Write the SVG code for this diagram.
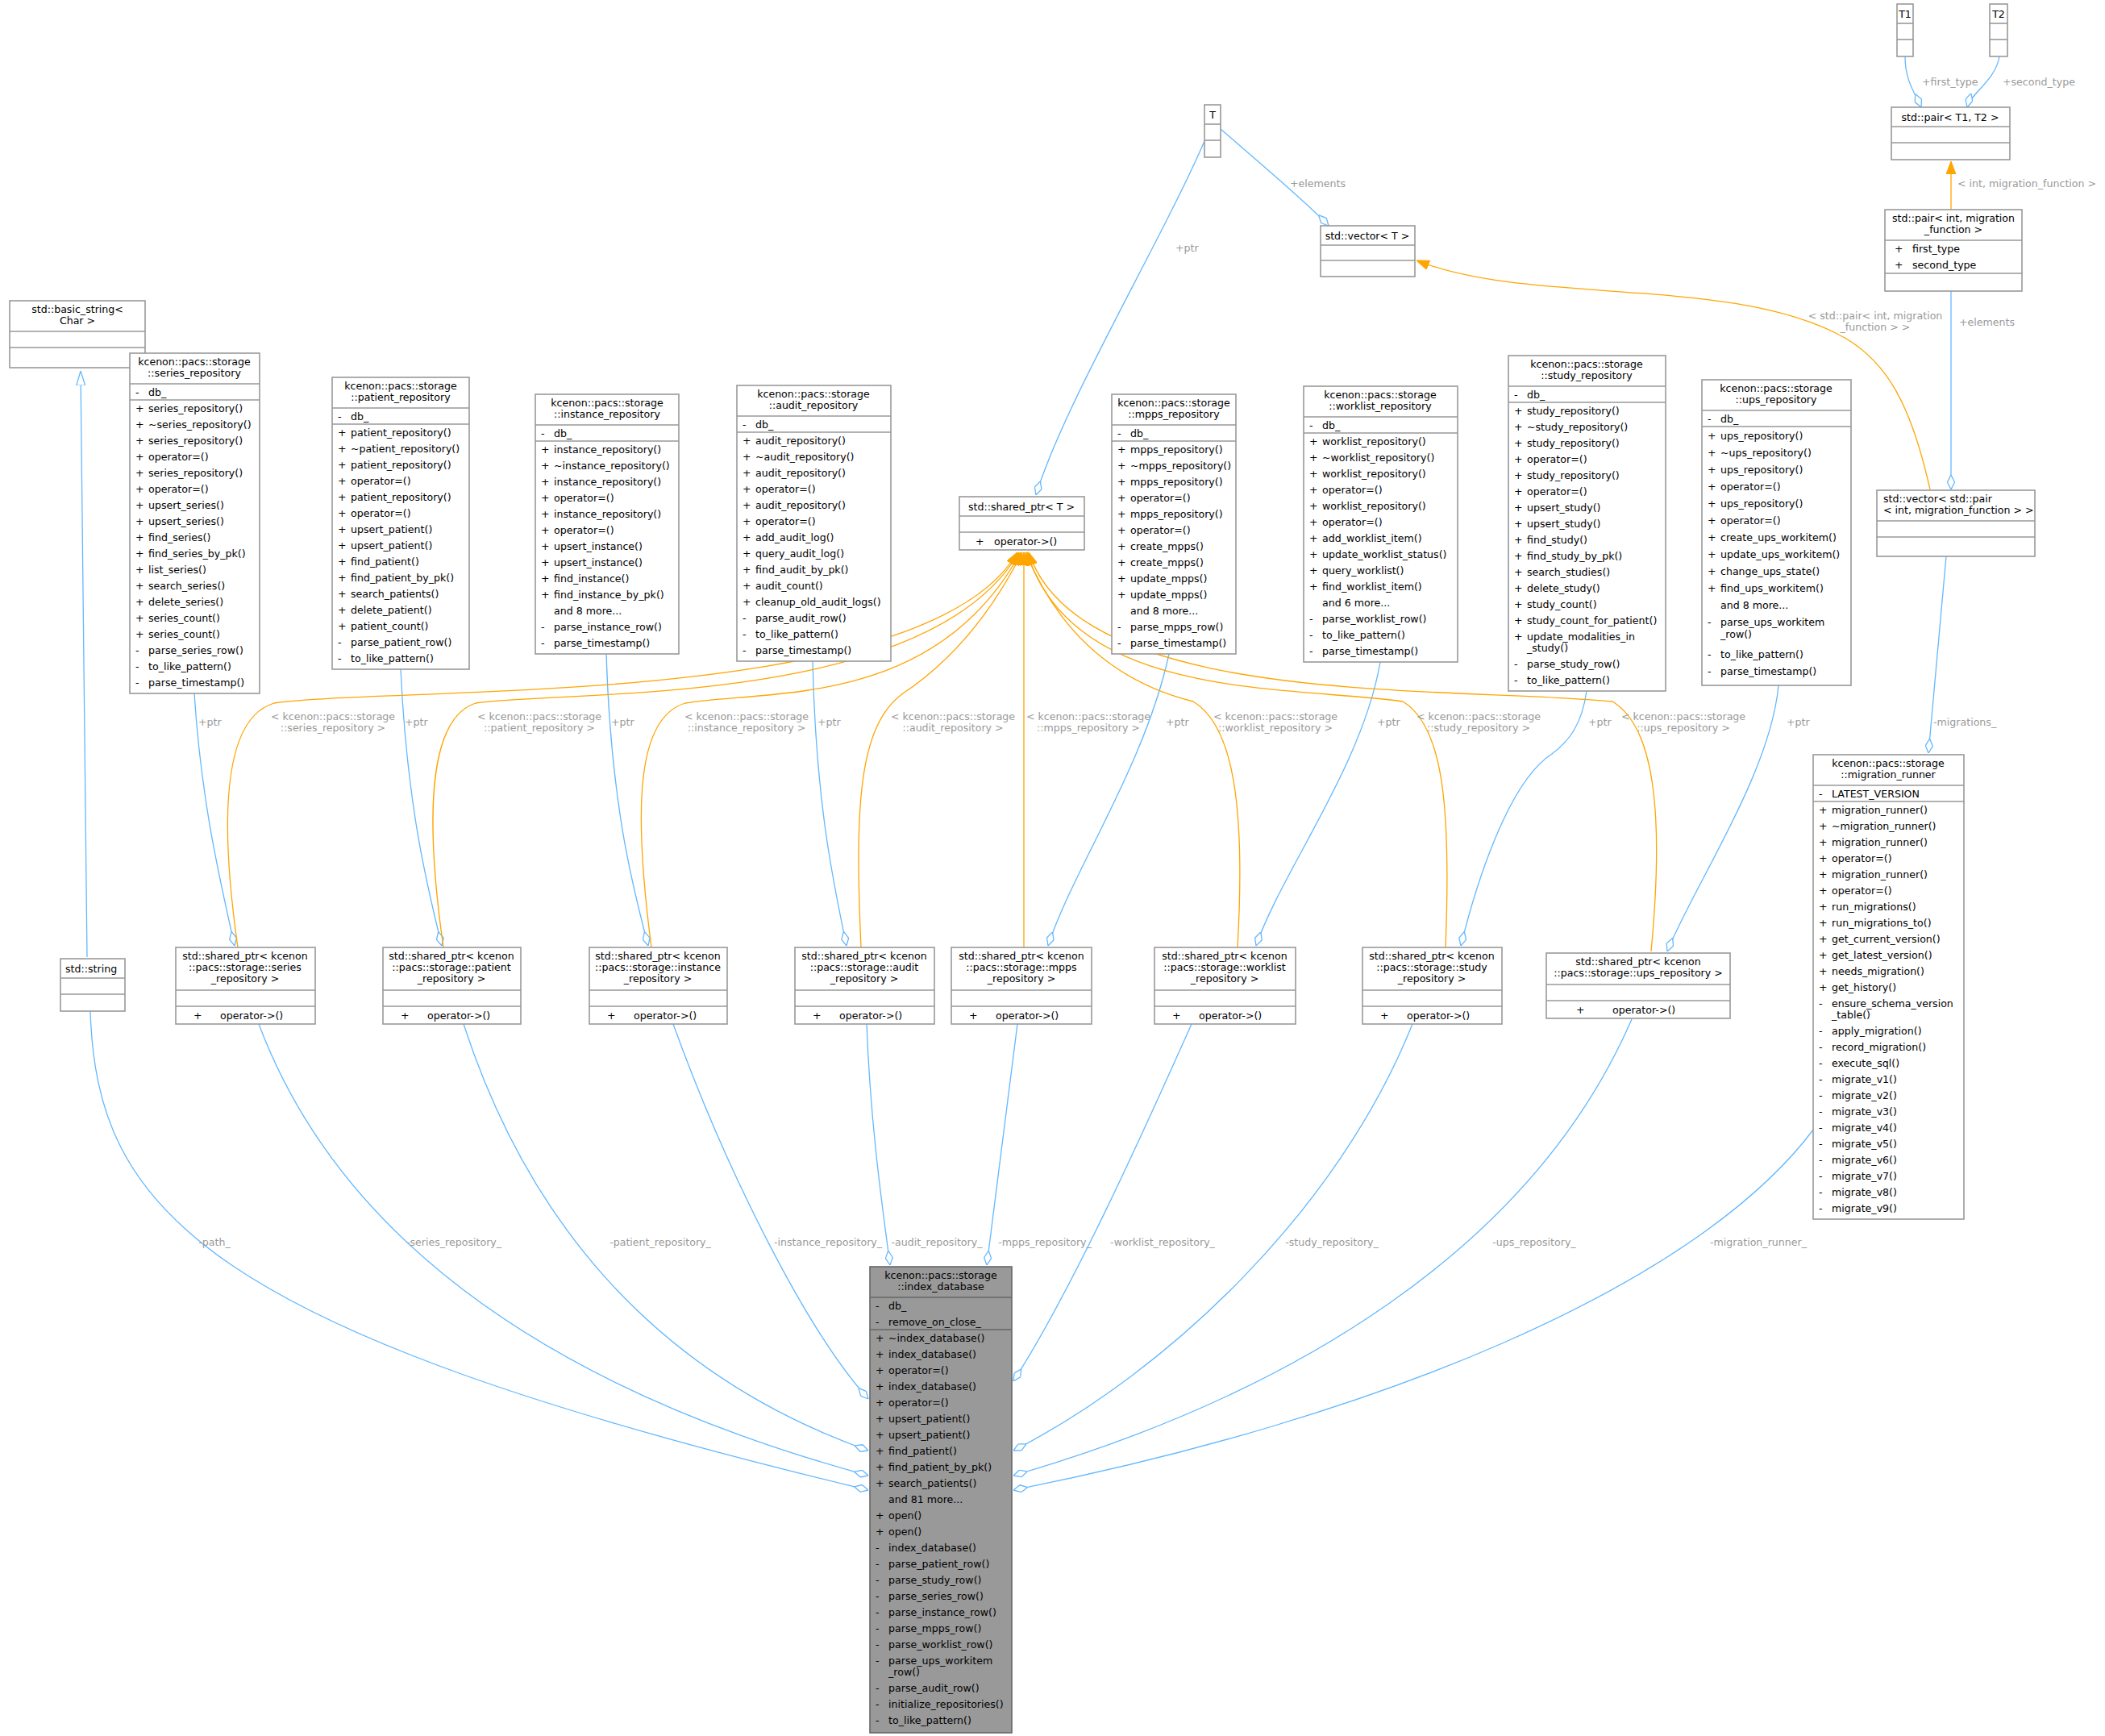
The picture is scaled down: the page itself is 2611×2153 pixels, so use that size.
<svg xmlns="http://www.w3.org/2000/svg" width="2611" height="2153" viewBox="0 0 2611 2153">
<style>
.b{fill:#fff;stroke:#999;stroke-width:1.6}
.m{fill:#999;stroke:#666;stroke-width:1.6}
.s{stroke:#999;stroke-width:1.6}
.sm{stroke:#666;stroke-width:1.6}
text{font-family:"DejaVu Sans","Liberation Sans",sans-serif;font-size:12.6px;fill:#000}
.c{text-anchor:middle}
.l{fill:#9a9a9a}
.e{fill:none;stroke:#63b8ff;stroke-width:1.3}
.o{fill:none;stroke:#ffa500;stroke-width:1.3}
</style>
<defs>
<marker id="dia" viewBox="0 0 18 10" refX="18" refY="5" markerWidth="18" markerHeight="10" markerUnits="userSpaceOnUse" orient="auto"><path d="M0,5 L9,0.5 L18,5 L9,9.5 Z" fill="#fff" stroke="#63b8ff" stroke-width="1.3"/></marker>
<marker id="arr" viewBox="0 0 16 12" refX="16" refY="6" markerWidth="16" markerHeight="12" markerUnits="userSpaceOnUse" orient="auto"><path d="M0,0 L16,6 L0,12 Z" fill="#ffa500" stroke="#ffa500"/></marker>
<marker id="tri" viewBox="0 0 18 12" refX="18" refY="6" markerWidth="18" markerHeight="12" markerUnits="userSpaceOnUse" orient="auto"><path d="M0,0.5 L18,6 L0,11.5 Z" fill="#fff" stroke="#63b8ff" stroke-width="1.3"/></marker>
</defs>

<g id="connectors">
<path class="e" d="M1494,175 C1440,300 1320,500 1285,614" marker-end="url(#dia)"/>
<text class="l" x="1458" y="312">+ptr</text>
<path class="e" d="M1514,160 C1560,200 1620,250 1648,280" marker-end="url(#dia)"/>
<text class="l" x="1600" y="232">+elements</text>
<path class="e" d="M2363,70 C2363,100 2375,115 2383,133" marker-end="url(#dia)"/>
<text class="l" x="2384" y="106">+first_type</text>
<path class="e" d="M2480,70 C2475,100 2445,115 2440,133" marker-end="url(#dia)"/>
<text class="l" x="2484" y="106">+second_type</text>
<path class="o" d="M2420,260 L2420,200" marker-end="url(#arr)"/>
<text class="l" x="2428" y="232">&lt; int, migration_function &gt;</text>
<path class="e" d="M2420,361 L2420,607" marker-end="url(#dia)"/>
<text class="l" x="2430" y="404">+elements</text>
<path class="o" d="M2394,607 C2370,500 2340,450 2290,420 C2150,340 1900,380 1757,323" marker-end="url(#arr)"/>
<text class="l c" x="2326" y="396">&lt; std::pair&lt; int, migration</text>
<text class="l c" x="2326" y="410">_function &gt; &gt;</text>
<path class="e" d="M2414,690 L2392,934" marker-end="url(#dia)"/>
<text class="l" x="2398" y="900">-migrations_</text>
<path class="e" d="M108,1187 L100,460" marker-end="url(#tri)"/>

<path class="e" d="M241,860 C250,1000 275,1100 291,1173" marker-end="url(#dia)"/>
<text class="l" x="246" y="900">+ptr</text>
<path class="e" d="M497,830 C505,1000 530,1100 548,1173" marker-end="url(#dia)"/>
<text class="l" x="502" y="900">+ptr</text>
<path class="e" d="M752,811 C758,1000 785,1100 804,1173" marker-end="url(#dia)"/>
<text class="l" x="758" y="900">+ptr</text>
<path class="e" d="M1008,820 C1012,1000 1035,1100 1050,1173" marker-end="url(#dia)"/>
<text class="l" x="1014" y="900">+ptr</text>
<path class="e" d="M1450,811 C1420,950 1330,1080 1300,1173" marker-end="url(#dia)"/>
<text class="l" x="1446" y="900">+ptr</text>
<path class="e" d="M1712,821 C1690,950 1590,1080 1558,1173" marker-end="url(#dia)"/>
<text class="l" x="1708" y="900">+ptr</text>
<path class="e" d="M1968,857 C1962,900 1945,920 1925,935 C1870,970 1830,1100 1812,1173" marker-end="url(#dia)"/>
<text class="l" x="1970" y="900">+ptr</text>
<path class="e" d="M2206,850 C2196,960 2100,1100 2068,1180" marker-end="url(#dia)"/>
<text class="l" x="2216" y="900">+ptr</text>

<path class="o" d="M295,1175 C270,1000 280,890 340,872 C500,850 1150,880 1262,685" marker-end="url(#arr)"/>
<path class="o" d="M550,1175 C525,1000 535,890 590,872 C700,855 1150,880 1264,685" marker-end="url(#arr)"/>
<path class="o" d="M808,1175 C785,1000 790,890 850,872 C950,855 1160,880 1266,685" marker-end="url(#arr)"/>
<path class="o" d="M1068,1175 C1060,1000 1065,900 1120,860 C1180,820 1230,760 1268,685" marker-end="url(#arr)"/>
<path class="o" d="M1270,1175 L1270,685" marker-end="url(#arr)"/>
<path class="o" d="M1535,1175 C1545,1000 1530,900 1480,870 C1400,850 1320,800 1272,685" marker-end="url(#arr)"/>
<path class="o" d="M1793,1175 C1800,1000 1790,900 1740,870 C1600,850 1330,870 1274,685" marker-end="url(#arr)"/>
<path class="o" d="M2048,1180 C2065,1000 2050,900 2000,870 C1800,850 1340,880 1276,685" marker-end="url(#arr)"/>
<text class="l c" x="413" y="893">&lt; kcenon::pacs::storage</text><text class="l c" x="413" y="907">::series_repository &gt;</text>
<text class="l c" x="669" y="893">&lt; kcenon::pacs::storage</text><text class="l c" x="669" y="907">::patient_repository &gt;</text>
<text class="l c" x="926" y="893">&lt; kcenon::pacs::storage</text><text class="l c" x="926" y="907">::instance_repository &gt;</text>
<text class="l c" x="1182" y="893">&lt; kcenon::pacs::storage</text><text class="l c" x="1182" y="907">::audit_repository &gt;</text>
<text class="l c" x="1350" y="893">&lt; kcenon::pacs::storage</text><text class="l c" x="1350" y="907">::mpps_repository &gt;</text>
<text class="l c" x="1582" y="893">&lt; kcenon::pacs::storage</text><text class="l c" x="1582" y="907">::worklist_repository &gt;</text>
<text class="l c" x="1834" y="893">&lt; kcenon::pacs::storage</text><text class="l c" x="1834" y="907">::study_repository &gt;</text>
<text class="l c" x="2088" y="893">&lt; kcenon::pacs::storage</text><text class="l c" x="2088" y="907">::ups_repository &gt;</text>

<path class="e" d="M112,1254 C120,1500 250,1650 1077,1848" marker-end="url(#dia)"/>
<text class="l c" x="266" y="1545">-path_</text>
<path class="e" d="M321,1270 C400,1480 600,1700 1077,1830" marker-end="url(#dia)"/>
<text class="l c" x="563" y="1545">-series_repository_</text>
<path class="e" d="M575,1270 C650,1500 800,1700 1077,1799" marker-end="url(#dia)"/>
<text class="l c" x="819" y="1545">-patient_repository_</text>
<path class="e" d="M835,1270 C900,1450 1000,1650 1077,1735" marker-end="url(#dia)"/>
<text class="l c" x="1027" y="1545">-instance_repository_</text>
<path class="e" d="M1075,1270 C1080,1400 1095,1500 1104,1569" marker-end="url(#dia)"/>
<text class="l c" x="1162" y="1545">-audit_repository_</text>
<path class="e" d="M1262,1270 L1224,1569" marker-end="url(#dia)"/>
<text class="l c" x="1296" y="1545">-mpps_repository_</text>
<path class="e" d="M1478,1270 C1420,1400 1330,1600 1257,1713" marker-end="url(#dia)"/>
<text class="l c" x="1442" y="1545">-worklist_repository_</text>
<path class="e" d="M1752,1270 C1660,1500 1450,1700 1257,1799" marker-end="url(#dia)"/>
<text class="l c" x="1652" y="1545">-study_repository_</text>
<path class="e" d="M2024,1264 C1900,1550 1600,1730 1257,1830" marker-end="url(#dia)"/>
<text class="l c" x="1903" y="1545">-ups_repository_</text>
<path class="e" d="M2250,1400 C2100,1600 1700,1760 1257,1848" marker-end="url(#dia)"/>
<text class="l c" x="2181" y="1545">-migration_runner_</text>
</g>

<g id="T"><rect class="b" x="1494" y="130" width="20" height="65"/><line class="s" x1="1494" y1="154" x2="1514" y2="154"/><line class="s" x1="1494" y1="174" x2="1514" y2="174"/><text class="c" x="1504" y="147">T</text></g>
<g id="T1"><rect class="b" x="2353" y="5" width="20" height="65"/><line class="s" x1="2353" y1="29" x2="2373" y2="29"/><line class="s" x1="2353" y1="49" x2="2373" y2="49"/><text class="c" x="2363" y="22">T1</text></g>
<g id="T2"><rect class="b" x="2468" y="5" width="22" height="65"/><line class="s" x1="2468" y1="29" x2="2490" y2="29"/><line class="s" x1="2468" y1="49" x2="2490" y2="49"/><text class="c" x="2479" y="22">T2</text></g>
<g id="pairT1T2"><rect class="b" x="2346" y="133" width="147" height="65"/><line class="s" x1="2346" y1="157" x2="2493" y2="157"/><line class="s" x1="2346" y1="177" x2="2493" y2="177"/><text class="c" x="2419" y="150">std::pair&lt; T1, T2 &gt;</text></g>
<g id="pairInt"><rect class="b" x="2338" y="260" width="170" height="101"/><line class="s" x1="2338" y1="298" x2="2508" y2="298"/><line class="s" x1="2338" y1="339" x2="2508" y2="339"/>
<text class="c" x="2423" y="275">std::pair&lt; int, migration</text><text class="c" x="2423" y="289">_function &gt;</text>
<text x="2350" y="313">+</text><text x="2372" y="313">first_type</text><text x="2350" y="333">+</text><text x="2372" y="333">second_type</text></g>
<g id="vectorT"><rect class="b" x="1638" y="280" width="117" height="63"/><line class="s" x1="1638" y1="304" x2="1755" y2="304"/><line class="s" x1="1638" y1="323" x2="1755" y2="323"/><text class="c" x="1696" y="297">std::vector&lt; T &gt;</text></g>
<g id="vectorPair"><rect class="b" x="2328" y="608" width="196" height="82"/><line class="s" x1="2328" y1="646" x2="2524" y2="646"/><line class="s" x1="2328" y1="666" x2="2524" y2="666"/><text x="2336" y="623">std::vector&lt; std::pair</text><text x="2336" y="637">&lt; int, migration_function &gt; &gt;</text></g>
<g id="sharedT"><rect class="b" x="1190" y="616" width="155" height="66"/><line class="s" x1="1190" y1="640" x2="1345" y2="640"/><line class="s" x1="1190" y1="660" x2="1345" y2="660"/><text class="c" x="1267" y="633">std::shared_ptr&lt; T &gt;</text><text x="1210" y="676">+</text><text x="1233" y="676">operator-&gt;()</text></g>
<g id="basicString"><rect class="b" x="12" y="373" width="168" height="83"/><line class="s" x1="12" y1="411" x2="180" y2="411"/><line class="s" x1="12" y1="431" x2="180" y2="431"/><text class="c" x="96" y="388">std::basic_string&lt;</text><text class="c" x="96" y="402">Char &gt;</text></g>
<g id="string"><rect class="b" x="75" y="1189" width="80" height="65"/><line class="s" x1="75" y1="1213" x2="155" y2="1213"/><line class="s" x1="75" y1="1233" x2="155" y2="1233"/><text x="81" y="1206">std::string</text></g>

<g id="series_repository"><rect class="b" x="161" y="438" width="161" height="422"/><line class="s" x1="161" y1="476" x2="322" y2="476"/><line class="s" x1="161" y1="496" x2="322" y2="496"/>
<text class="c" x="241" y="453">kcenon::pacs::storage</text><text class="c" x="241" y="467">::series_repository</text>
<text x="168" y="491">-</text><text x="184" y="491">db_</text>
<text x="168" y="511">+</text><text x="184" y="511">series_repository()</text>
<text x="168" y="531">+</text><text x="184" y="531">~series_repository()</text>
<text x="168" y="551">+</text><text x="184" y="551">series_repository()</text>
<text x="168" y="571">+</text><text x="184" y="571">operator=()</text>
<text x="168" y="591">+</text><text x="184" y="591">series_repository()</text>
<text x="168" y="611">+</text><text x="184" y="611">operator=()</text>
<text x="168" y="631">+</text><text x="184" y="631">upsert_series()</text>
<text x="168" y="651">+</text><text x="184" y="651">upsert_series()</text>
<text x="168" y="671">+</text><text x="184" y="671">find_series()</text>
<text x="168" y="691">+</text><text x="184" y="691">find_series_by_pk()</text>
<text x="168" y="711">+</text><text x="184" y="711">list_series()</text>
<text x="168" y="731">+</text><text x="184" y="731">search_series()</text>
<text x="168" y="751">+</text><text x="184" y="751">delete_series()</text>
<text x="168" y="771">+</text><text x="184" y="771">series_count()</text>
<text x="168" y="791">+</text><text x="184" y="791">series_count()</text>
<text x="168" y="811">-</text><text x="184" y="811">parse_series_row()</text>
<text x="168" y="831">-</text><text x="184" y="831">to_like_pattern()</text>
<text x="168" y="851">-</text><text x="184" y="851">parse_timestamp()</text></g>

<g id="patient_repository"><rect class="b" x="412" y="468" width="170" height="362"/><line class="s" x1="412" y1="506" x2="582" y2="506"/><line class="s" x1="412" y1="526" x2="582" y2="526"/>
<text class="c" x="497" y="483">kcenon::pacs::storage</text><text class="c" x="497" y="497">::patient_repository</text>
<text x="419" y="521">-</text><text x="435" y="521">db_</text>
<text x="419" y="541">+</text><text x="435" y="541">patient_repository()</text>
<text x="419" y="561">+</text><text x="435" y="561">~patient_repository()</text>
<text x="419" y="581">+</text><text x="435" y="581">patient_repository()</text>
<text x="419" y="601">+</text><text x="435" y="601">operator=()</text>
<text x="419" y="621">+</text><text x="435" y="621">patient_repository()</text>
<text x="419" y="641">+</text><text x="435" y="641">operator=()</text>
<text x="419" y="661">+</text><text x="435" y="661">upsert_patient()</text>
<text x="419" y="681">+</text><text x="435" y="681">upsert_patient()</text>
<text x="419" y="701">+</text><text x="435" y="701">find_patient()</text>
<text x="419" y="721">+</text><text x="435" y="721">find_patient_by_pk()</text>
<text x="419" y="741">+</text><text x="435" y="741">search_patients()</text>
<text x="419" y="761">+</text><text x="435" y="761">delete_patient()</text>
<text x="419" y="781">+</text><text x="435" y="781">patient_count()</text>
<text x="419" y="801">-</text><text x="435" y="801">parse_patient_row()</text>
<text x="419" y="821">-</text><text x="435" y="821">to_like_pattern()</text></g>

<g id="instance_repository"><rect class="b" x="664" y="489" width="178" height="322"/><line class="s" x1="664" y1="527" x2="842" y2="527"/><line class="s" x1="664" y1="547" x2="842" y2="547"/>
<text class="c" x="753" y="504">kcenon::pacs::storage</text><text class="c" x="753" y="518">::instance_repository</text>
<text x="671" y="542">-</text><text x="687" y="542">db_</text>
<text x="671" y="562">+</text><text x="687" y="562">instance_repository()</text>
<text x="671" y="582">+</text><text x="687" y="582">~instance_repository()</text>
<text x="671" y="602">+</text><text x="687" y="602">instance_repository()</text>
<text x="671" y="622">+</text><text x="687" y="622">operator=()</text>
<text x="671" y="642">+</text><text x="687" y="642">instance_repository()</text>
<text x="671" y="662">+</text><text x="687" y="662">operator=()</text>
<text x="671" y="682">+</text><text x="687" y="682">upsert_instance()</text>
<text x="671" y="702">+</text><text x="687" y="702">upsert_instance()</text>
<text x="671" y="722">+</text><text x="687" y="722">find_instance()</text>
<text x="671" y="742">+</text><text x="687" y="742">find_instance_by_pk()</text>
<text x="687" y="762">and 8 more...</text>
<text x="671" y="782">-</text><text x="687" y="782">parse_instance_row()</text>
<text x="671" y="802">-</text><text x="687" y="802">parse_timestamp()</text></g>

<g id="audit_repository"><rect class="b" x="914" y="478" width="191" height="342"/><line class="s" x1="914" y1="516" x2="1105" y2="516"/><line class="s" x1="914" y1="536" x2="1105" y2="536"/>
<text class="c" x="1009" y="493">kcenon::pacs::storage</text><text class="c" x="1009" y="507">::audit_repository</text>
<text x="921" y="531">-</text><text x="937" y="531">db_</text>
<text x="921" y="551">+</text><text x="937" y="551">audit_repository()</text>
<text x="921" y="571">+</text><text x="937" y="571">~audit_repository()</text>
<text x="921" y="591">+</text><text x="937" y="591">audit_repository()</text>
<text x="921" y="611">+</text><text x="937" y="611">operator=()</text>
<text x="921" y="631">+</text><text x="937" y="631">audit_repository()</text>
<text x="921" y="651">+</text><text x="937" y="651">operator=()</text>
<text x="921" y="671">+</text><text x="937" y="671">add_audit_log()</text>
<text x="921" y="691">+</text><text x="937" y="691">query_audit_log()</text>
<text x="921" y="711">+</text><text x="937" y="711">find_audit_by_pk()</text>
<text x="921" y="731">+</text><text x="937" y="731">audit_count()</text>
<text x="921" y="751">+</text><text x="937" y="751">cleanup_old_audit_logs()</text>
<text x="921" y="771">-</text><text x="937" y="771">parse_audit_row()</text>
<text x="921" y="791">-</text><text x="937" y="791">to_like_pattern()</text>
<text x="921" y="811">-</text><text x="937" y="811">parse_timestamp()</text></g>

<g id="mpps_repository"><rect class="b" x="1379" y="489" width="154" height="322"/><line class="s" x1="1379" y1="527" x2="1533" y2="527"/><line class="s" x1="1379" y1="547" x2="1533" y2="547"/>
<text class="c" x="1456" y="504">kcenon::pacs::storage</text><text class="c" x="1456" y="518">::mpps_repository</text>
<text x="1386" y="542">-</text><text x="1402" y="542">db_</text>
<text x="1386" y="562">+</text><text x="1402" y="562">mpps_repository()</text>
<text x="1386" y="582">+</text><text x="1402" y="582">~mpps_repository()</text>
<text x="1386" y="602">+</text><text x="1402" y="602">mpps_repository()</text>
<text x="1386" y="622">+</text><text x="1402" y="622">operator=()</text>
<text x="1386" y="642">+</text><text x="1402" y="642">mpps_repository()</text>
<text x="1386" y="662">+</text><text x="1402" y="662">operator=()</text>
<text x="1386" y="682">+</text><text x="1402" y="682">create_mpps()</text>
<text x="1386" y="702">+</text><text x="1402" y="702">create_mpps()</text>
<text x="1386" y="722">+</text><text x="1402" y="722">update_mpps()</text>
<text x="1386" y="742">+</text><text x="1402" y="742">update_mpps()</text>
<text x="1402" y="762">and 8 more...</text>
<text x="1386" y="782">-</text><text x="1402" y="782">parse_mpps_row()</text>
<text x="1386" y="802">-</text><text x="1402" y="802">parse_timestamp()</text></g>

<g id="worklist_repository"><rect class="b" x="1617" y="479" width="191" height="342"/><line class="s" x1="1617" y1="517" x2="1808" y2="517"/><line class="s" x1="1617" y1="537" x2="1808" y2="537"/>
<text class="c" x="1712" y="494">kcenon::pacs::storage</text><text class="c" x="1712" y="508">::worklist_repository</text>
<text x="1624" y="532">-</text><text x="1640" y="532">db_</text>
<text x="1624" y="552">+</text><text x="1640" y="552">worklist_repository()</text>
<text x="1624" y="572">+</text><text x="1640" y="572">~worklist_repository()</text>
<text x="1624" y="592">+</text><text x="1640" y="592">worklist_repository()</text>
<text x="1624" y="612">+</text><text x="1640" y="612">operator=()</text>
<text x="1624" y="632">+</text><text x="1640" y="632">worklist_repository()</text>
<text x="1624" y="652">+</text><text x="1640" y="652">operator=()</text>
<text x="1624" y="672">+</text><text x="1640" y="672">add_worklist_item()</text>
<text x="1624" y="692">+</text><text x="1640" y="692">update_worklist_status()</text>
<text x="1624" y="712">+</text><text x="1640" y="712">query_worklist()</text>
<text x="1624" y="732">+</text><text x="1640" y="732">find_worklist_item()</text>
<text x="1640" y="752">and 6 more...</text>
<text x="1624" y="772">-</text><text x="1640" y="772">parse_worklist_row()</text>
<text x="1624" y="792">-</text><text x="1640" y="792">to_like_pattern()</text>
<text x="1624" y="812">-</text><text x="1640" y="812">parse_timestamp()</text></g>

<g id="study_repository"><rect class="b" x="1871" y="441" width="195" height="416"/><line class="s" x1="1871" y1="479" x2="2066" y2="479"/><line class="s" x1="1871" y1="499" x2="2066" y2="499"/>
<text class="c" x="1968" y="456">kcenon::pacs::storage</text><text class="c" x="1968" y="470">::study_repository</text>
<text x="1878" y="494">-</text><text x="1894" y="494">db_</text>
<text x="1878" y="514">+</text><text x="1894" y="514">study_repository()</text>
<text x="1878" y="534">+</text><text x="1894" y="534">~study_repository()</text>
<text x="1878" y="554">+</text><text x="1894" y="554">study_repository()</text>
<text x="1878" y="574">+</text><text x="1894" y="574">operator=()</text>
<text x="1878" y="594">+</text><text x="1894" y="594">study_repository()</text>
<text x="1878" y="614">+</text><text x="1894" y="614">operator=()</text>
<text x="1878" y="634">+</text><text x="1894" y="634">upsert_study()</text>
<text x="1878" y="654">+</text><text x="1894" y="654">upsert_study()</text>
<text x="1878" y="674">+</text><text x="1894" y="674">find_study()</text>
<text x="1878" y="694">+</text><text x="1894" y="694">find_study_by_pk()</text>
<text x="1878" y="714">+</text><text x="1894" y="714">search_studies()</text>
<text x="1878" y="734">+</text><text x="1894" y="734">delete_study()</text>
<text x="1878" y="754">+</text><text x="1894" y="754">study_count()</text>
<text x="1878" y="774">+</text><text x="1894" y="774">study_count_for_patient()</text>
<text x="1878" y="794">+</text><text x="1894" y="794">update_modalities_in</text><text x="1894" y="808">_study()</text>
<text x="1878" y="828">-</text><text x="1894" y="828">parse_study_row()</text>
<text x="1878" y="848">-</text><text x="1894" y="848">to_like_pattern()</text></g>

<g id="ups_repository"><rect class="b" x="2111" y="471" width="185" height="379"/><line class="s" x1="2111" y1="509" x2="2296" y2="509"/><line class="s" x1="2111" y1="529" x2="2296" y2="529"/>
<text class="c" x="2203" y="486">kcenon::pacs::storage</text><text class="c" x="2203" y="500">::ups_repository</text>
<text x="2118" y="524">-</text><text x="2134" y="524">db_</text>
<text x="2118" y="545">+</text><text x="2134" y="545">ups_repository()</text>
<text x="2118" y="566">+</text><text x="2134" y="566">~ups_repository()</text>
<text x="2118" y="587">+</text><text x="2134" y="587">ups_repository()</text>
<text x="2118" y="608">+</text><text x="2134" y="608">operator=()</text>
<text x="2118" y="629">+</text><text x="2134" y="629">ups_repository()</text>
<text x="2118" y="650">+</text><text x="2134" y="650">operator=()</text>
<text x="2118" y="671">+</text><text x="2134" y="671">create_ups_workitem()</text>
<text x="2118" y="692">+</text><text x="2134" y="692">update_ups_workitem()</text>
<text x="2118" y="713">+</text><text x="2134" y="713">change_ups_state()</text>
<text x="2118" y="734">+</text><text x="2134" y="734">find_ups_workitem()</text>
<text x="2134" y="755">and 8 more...</text>
<text x="2118" y="776">-</text><text x="2134" y="776">parse_ups_workitem</text><text x="2134" y="791">_row()</text>
<text x="2118" y="816">-</text><text x="2134" y="816">to_like_pattern()</text>
<text x="2118" y="837">-</text><text x="2134" y="837">parse_timestamp()</text></g>

<g id="migration_runner"><rect class="b" x="2249" y="936" width="187" height="576"/><line class="s" x1="2249" y1="974" x2="2436" y2="974"/><line class="s" x1="2249" y1="994" x2="2436" y2="994"/>
<text class="c" x="2342" y="951">kcenon::pacs::storage</text><text class="c" x="2342" y="965">::migration_runner</text>
<text x="2256" y="989">-</text><text x="2272" y="989">LATEST_VERSION</text>
<text x="2256" y="1009">+</text><text x="2272" y="1009">migration_runner()</text>
<text x="2256" y="1029">+</text><text x="2272" y="1029">~migration_runner()</text>
<text x="2256" y="1049">+</text><text x="2272" y="1049">migration_runner()</text>
<text x="2256" y="1069">+</text><text x="2272" y="1069">operator=()</text>
<text x="2256" y="1089">+</text><text x="2272" y="1089">migration_runner()</text>
<text x="2256" y="1109">+</text><text x="2272" y="1109">operator=()</text>
<text x="2256" y="1129">+</text><text x="2272" y="1129">run_migrations()</text>
<text x="2256" y="1149">+</text><text x="2272" y="1149">run_migrations_to()</text>
<text x="2256" y="1169">+</text><text x="2272" y="1169">get_current_version()</text>
<text x="2256" y="1189">+</text><text x="2272" y="1189">get_latest_version()</text>
<text x="2256" y="1209">+</text><text x="2272" y="1209">needs_migration()</text>
<text x="2256" y="1229">+</text><text x="2272" y="1229">get_history()</text>
<text x="2256" y="1249">-</text><text x="2272" y="1249">ensure_schema_version</text><text x="2272" y="1263">_table()</text>
<text x="2256" y="1283">-</text><text x="2272" y="1283">apply_migration()</text>
<text x="2256" y="1303">-</text><text x="2272" y="1303">record_migration()</text>
<text x="2256" y="1323">-</text><text x="2272" y="1323">execute_sql()</text>
<text x="2256" y="1343">-</text><text x="2272" y="1343">migrate_v1()</text>
<text x="2256" y="1363">-</text><text x="2272" y="1363">migrate_v2()</text>
<text x="2256" y="1383">-</text><text x="2272" y="1383">migrate_v3()</text>
<text x="2256" y="1403">-</text><text x="2272" y="1403">migrate_v4()</text>
<text x="2256" y="1423">-</text><text x="2272" y="1423">migrate_v5()</text>
<text x="2256" y="1443">-</text><text x="2272" y="1443">migrate_v6()</text>
<text x="2256" y="1463">-</text><text x="2272" y="1463">migrate_v7()</text>
<text x="2256" y="1483">-</text><text x="2272" y="1483">migrate_v8()</text>
<text x="2256" y="1503">-</text><text x="2272" y="1503">migrate_v9()</text></g>

<g id="sp_series"><rect class="b" x="218" y="1175" width="173" height="95"/><line class="s" x1="218" y1="1228" x2="391" y2="1228"/><line class="s" x1="218" y1="1248" x2="391" y2="1248"/><text class="c" x="304" y="1190">std::shared_ptr&lt; kcenon</text><text class="c" x="304" y="1204">::pacs::storage::series</text><text class="c" x="304" y="1218">_repository &gt;</text><text x="240" y="1264">+</text><text x="273" y="1264">operator-&gt;()</text></g>
<g id="sp_patient"><rect class="b" x="475" y="1175" width="171" height="95"/><line class="s" x1="475" y1="1228" x2="646" y2="1228"/><line class="s" x1="475" y1="1248" x2="646" y2="1248"/><text class="c" x="560" y="1190">std::shared_ptr&lt; kcenon</text><text class="c" x="560" y="1204">::pacs::storage::patient</text><text class="c" x="560" y="1218">_repository &gt;</text><text x="497" y="1264">+</text><text x="530" y="1264">operator-&gt;()</text></g>
<g id="sp_instance"><rect class="b" x="731" y="1175" width="171" height="95"/><line class="s" x1="731" y1="1228" x2="902" y2="1228"/><line class="s" x1="731" y1="1248" x2="902" y2="1248"/><text class="c" x="816" y="1190">std::shared_ptr&lt; kcenon</text><text class="c" x="816" y="1204">::pacs::storage::instance</text><text class="c" x="816" y="1218">_repository &gt;</text><text x="753" y="1264">+</text><text x="786" y="1264">operator-&gt;()</text></g>
<g id="sp_audit"><rect class="b" x="986" y="1175" width="173" height="95"/><line class="s" x1="986" y1="1228" x2="1159" y2="1228"/><line class="s" x1="986" y1="1248" x2="1159" y2="1248"/><text class="c" x="1072" y="1190">std::shared_ptr&lt; kcenon</text><text class="c" x="1072" y="1204">::pacs::storage::audit</text><text class="c" x="1072" y="1218">_repository &gt;</text><text x="1008" y="1264">+</text><text x="1041" y="1264">operator-&gt;()</text></g>
<g id="sp_mpps"><rect class="b" x="1180" y="1175" width="174" height="95"/><line class="s" x1="1180" y1="1228" x2="1354" y2="1228"/><line class="s" x1="1180" y1="1248" x2="1354" y2="1248"/><text class="c" x="1267" y="1190">std::shared_ptr&lt; kcenon</text><text class="c" x="1267" y="1204">::pacs::storage::mpps</text><text class="c" x="1267" y="1218">_repository &gt;</text><text x="1202" y="1264">+</text><text x="1235" y="1264">operator-&gt;()</text></g>
<g id="sp_worklist"><rect class="b" x="1432" y="1175" width="175" height="95"/><line class="s" x1="1432" y1="1228" x2="1607" y2="1228"/><line class="s" x1="1432" y1="1248" x2="1607" y2="1248"/><text class="c" x="1519" y="1190">std::shared_ptr&lt; kcenon</text><text class="c" x="1519" y="1204">::pacs::storage::worklist</text><text class="c" x="1519" y="1218">_repository &gt;</text><text x="1454" y="1264">+</text><text x="1487" y="1264">operator-&gt;()</text></g>
<g id="sp_study"><rect class="b" x="1690" y="1175" width="173" height="95"/><line class="s" x1="1690" y1="1228" x2="1863" y2="1228"/><line class="s" x1="1690" y1="1248" x2="1863" y2="1248"/><text class="c" x="1776" y="1190">std::shared_ptr&lt; kcenon</text><text class="c" x="1776" y="1204">::pacs::storage::study</text><text class="c" x="1776" y="1218">_repository &gt;</text><text x="1712" y="1264">+</text><text x="1745" y="1264">operator-&gt;()</text></g>
<g id="sp_ups"><rect class="b" x="1918" y="1182" width="228" height="81"/><line class="s" x1="1918" y1="1221" x2="2146" y2="1221"/><line class="s" x1="1918" y1="1241" x2="2146" y2="1241"/><text class="c" x="2032" y="1197">std::shared_ptr&lt; kcenon</text><text class="c" x="2032" y="1211">::pacs::storage::ups_repository &gt;</text><text x="1955" y="1257">+</text><text x="2000" y="1257">operator-&gt;()</text></g>

<g id="index_database"><rect class="m" x="1079" y="1571" width="176" height="578"/><line class="sm" x1="1079" y1="1609" x2="1255" y2="1609"/><line class="sm" x1="1079" y1="1649" x2="1255" y2="1649"/>
<text class="c" x="1167" y="1586">kcenon::pacs::storage</text><text class="c" x="1167" y="1600">::index_database</text>
<text x="1086" y="1624">-</text><text x="1102" y="1624">db_</text>
<text x="1086" y="1644">-</text><text x="1102" y="1644">remove_on_close_</text>
<text x="1086" y="1664">+</text><text x="1102" y="1664">~index_database()</text>
<text x="1086" y="1684">+</text><text x="1102" y="1684">index_database()</text>
<text x="1086" y="1704">+</text><text x="1102" y="1704">operator=()</text>
<text x="1086" y="1724">+</text><text x="1102" y="1724">index_database()</text>
<text x="1086" y="1744">+</text><text x="1102" y="1744">operator=()</text>
<text x="1086" y="1764">+</text><text x="1102" y="1764">upsert_patient()</text>
<text x="1086" y="1784">+</text><text x="1102" y="1784">upsert_patient()</text>
<text x="1086" y="1804">+</text><text x="1102" y="1804">find_patient()</text>
<text x="1086" y="1824">+</text><text x="1102" y="1824">find_patient_by_pk()</text>
<text x="1086" y="1844">+</text><text x="1102" y="1844">search_patients()</text>
<text x="1102" y="1864">and 81 more...</text>
<text x="1086" y="1884">+</text><text x="1102" y="1884">open()</text>
<text x="1086" y="1904">+</text><text x="1102" y="1904">open()</text>
<text x="1086" y="1924">-</text><text x="1102" y="1924">index_database()</text>
<text x="1086" y="1944">-</text><text x="1102" y="1944">parse_patient_row()</text>
<text x="1086" y="1964">-</text><text x="1102" y="1964">parse_study_row()</text>
<text x="1086" y="1984">-</text><text x="1102" y="1984">parse_series_row()</text>
<text x="1086" y="2004">-</text><text x="1102" y="2004">parse_instance_row()</text>
<text x="1086" y="2024">-</text><text x="1102" y="2024">parse_mpps_row()</text>
<text x="1086" y="2044">-</text><text x="1102" y="2044">parse_worklist_row()</text>
<text x="1086" y="2064">-</text><text x="1102" y="2064">parse_ups_workitem</text><text x="1102" y="2078">_row()</text>
<text x="1086" y="2098">-</text><text x="1102" y="2098">parse_audit_row()</text>
<text x="1086" y="2118">-</text><text x="1102" y="2118">initialize_repositories()</text>
<text x="1086" y="2138">-</text><text x="1102" y="2138">to_like_pattern()</text></g>
</svg>
